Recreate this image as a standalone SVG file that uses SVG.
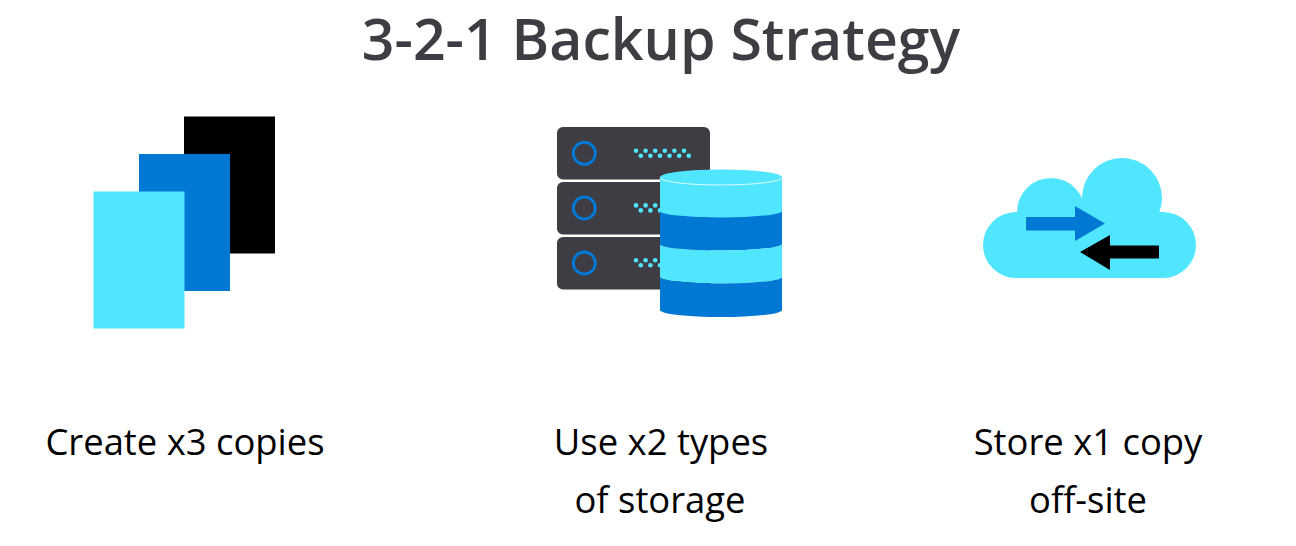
<svg xmlns="http://www.w3.org/2000/svg" width="1296" height="546" viewBox="0 0 1296 546">
<style>
text{font-family:"Open Sans","Noto Sans","Liberation Sans",sans-serif;text-anchor:middle;fill:#000}
.t{font-size:57.200px;font-weight:600;fill:#3e3d43}
.l{font-size:36.400px}
.srv{fill:#3e3d43}
.ring{fill:none;stroke:#0078d4;stroke-width:3}
.c{fill:#50e6ff}
.b{fill:#0078d4}
</style>
<defs>
<g id="dots" class="c"><circle cx="0" cy="0" r="2.300"/><circle cx="4.800" cy="5" r="2.300"/><circle cx="9.600" cy="0" r="2.300"/><circle cx="14.400" cy="5" r="2.300"/><circle cx="19.200" cy="0" r="2.300"/><circle cx="24" cy="5" r="2.300"/><circle cx="28.800" cy="0" r="2.300"/><circle cx="33.600" cy="5" r="2.300"/><circle cx="38.400" cy="0" r="2.300"/><circle cx="43.200" cy="5" r="2.300"/><circle cx="48" cy="0" r="2.300"/><circle cx="52.800" cy="5" r="2.300"/></g>
</defs>
<rect width="1296" height="546" fill="#fff"/>
<text id="title" class="t" x="661" y="60">3-2-1 Backup Strategy</text>
<g id="copies">
<rect x="184" y="116.500" width="91" height="137" fill="#000"/>
<rect x="139" y="154" width="91" height="137" class="b"/>
<rect x="93.500" y="191.500" width="91" height="137" class="c"/>
<text class="l" x="185" y="455">Create x3 copies</text>
</g>
<g id="storage">
<rect class="srv" x="557" y="127" width="153" height="52.500" rx="6"/>
<rect class="srv" x="557" y="182" width="153" height="52.500" rx="6"/>
<rect class="srv" x="557" y="237" width="153" height="52.500" rx="6"/>
<circle class="ring" cx="584.300" cy="153.300" r="11"/>
<circle class="ring" cx="584.300" cy="208" r="11"/>
<circle class="ring" cx="584.300" cy="263" r="11"/>
<use href="#dots" x="636" y="150.700"/>
<use href="#dots" x="636" y="205.400"/>
<use href="#dots" x="636" y="260.300"/>
<path class="c" d="M660 177A61 7.500 0 0 1 782 177V212A61 6 0 0 1 660 212Z"/>
<path class="b" d="M660 211A61 6.500 0 0 0 782 211V244A61 6.500 0 0 1 660 244Z"/>
<path class="c" d="M660 244A61 6.500 0 0 0 782 244V277A61 6.500 0 0 1 660 277Z"/>
<path class="b" d="M660 277A61 6.500 0 0 0 782 277V310A61 7 0 0 1 660 310Z"/>
<path d="M660 177.500A61 7.500 0 0 0 782 177.500" fill="none" stroke="#fff" stroke-width="0.800"/>
<text class="l" x="661" y="455">Use x2 types</text>
<text class="l" x="660" y="513">of storage</text>
</g>
<g id="cloud">
<g class="c">
<circle cx="1016" cy="245" r="33"/>
<circle cx="1163" cy="245" r="33"/>
<rect x="1016" y="212" width="147" height="66"/>
<circle cx="1051" cy="212" r="34"/>
<circle cx="1122" cy="198" r="40"/>
</g>
<path class="b" d="M1026 217H1075V206L1105 223.500L1075 241V230.500H1026Z"/>
<path d="M1159 245.500H1110V235L1080 252L1110 270V258.500H1159Z" fill="#000"/>
<text class="l" x="1088" y="455">Store x1 copy</text>
<text class="l" x="1088" y="513">off-site</text>
</g>
</svg>
